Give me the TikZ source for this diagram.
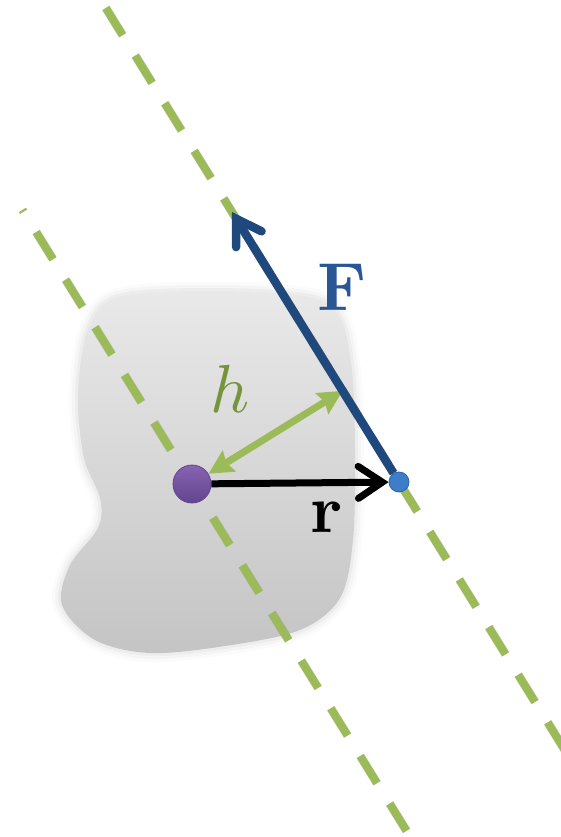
\documentclass[tikz,border=0pt]{standalone}
\usetikzlibrary{arrows.meta,calc}

\definecolor{guidegreen}{RGB}{155,187,89}
\definecolor{hgreen}{RGB}{119,147,60}
\definecolor{forceblue}{RGB}{31,73,125}
\definecolor{flabelblue}{RGB}{41,87,150}
\definecolor{pointblue}{RGB}{62,126,200}
\definecolor{pointblueedge}{RGB}{44,98,168}
\definecolor{origintop}{RGB}{136,100,178}
\definecolor{originbot}{RGB}{98,68,140}
\definecolor{bodytop}{RGB}{233,233,233}
\definecolor{bodybot}{RGB}{196,196,196}

\newcommand{\bodyshape}{plot[smooth cycle, tension=0.55] coordinates {(118,297) (215,291) (310,297) (340,318) (352,370) (355,450) (353,540) (340,598) (300,630) (225,646) (150,653) (95,640) (62,605) (70,565) (98,528) (100,498) (84,458) (78,395) (88,330)}}

\begin{document}
\begin{tikzpicture}[
  x=1pt, y=-1pt,
  guide/.style={guidegreen, line width=8pt, dash pattern=on 32pt off 24pt},
  guideshadow/.style={black, opacity=0.12, line width=9pt, dash pattern=on 32pt off 24pt},
  rvec/.style={-{Straight Barb[length=24pt, width=32pt, line cap=round]}, line width=7pt},
  fvec/.style={-{Straight Barb[length=24pt, width=30pt, line cap=round]}, line width=8.5pt, forceblue},
  hvec/.style={{Stealth[length=24pt, width=24pt, inset=3pt]}-{Stealth[length=24pt, width=24pt, inset=3pt]}, line width=7pt, guidegreen},
  lbl/.style={scale=6.8, inner sep=0pt}
]
\useasboundingbox (0,0) rectangle (561,837);
\clip (0,0) rectangle (561,837);

\foreach \w/\o in {18/0.1, 12/0.15, 6/0.25}
  \draw[line width=\w pt, bodybot!70!white, opacity=\o, line join=round] \bodyshape;
\shade[top color=bodytop, bottom color=bodybot] \bodyshape;

\coordinate (o) at (192,484);
\coordinate (b) at (399,482);
\coordinate (Ftip) at (232,212);
\coordinate (otop) at ($(o)+(Ftip)-(b)$);
\coordinate (foot) at ($(b)!(o)!(Ftip)$);

\draw[guideshadow, shift={(1.5,3)}] ($(b)!1.7556!(Ftip)$) -- ($(b)!-1.3!(Ftip)$);
\draw[guideshadow, shift={(1.5,3)}, dash phase=30pt] ($(o)!1.015!(otop)$) -- ($(o)!-1.5!(otop)$);
\draw[guide] ($(b)!1.7556!(Ftip)$) -- ($(b)!-1.3!(Ftip)$);
\draw[guide, dash phase=30pt] ($(o)!1.015!(otop)$) -- ($(o)!-1.5!(otop)$);

\node[circle, minimum size=38pt, inner sep=0pt, top color=origintop, bottom color=originbot, draw=originbot, line width=0.8pt] (O) at (o) {};
\node[circle, minimum size=20pt, inner sep=0pt, fill=pointblue, draw=pointblueedge, line width=0.8pt] (B) at (b) {};

\draw[hvec] (O) -- (foot);
\draw[rvec] (O) -- (B);
\draw[fvec] (B) -- (Ftip);

\node[lbl, text=flabelblue] (Flabel) at (342,287) {$\mathbf{F}$};
\node[lbl, text=hgreen] (hlabel) at (230,389) {$h$};
\node[lbl] (rlabel) at (327,517) {$\mathbf{r}$};
\end{tikzpicture}
\end{document}
